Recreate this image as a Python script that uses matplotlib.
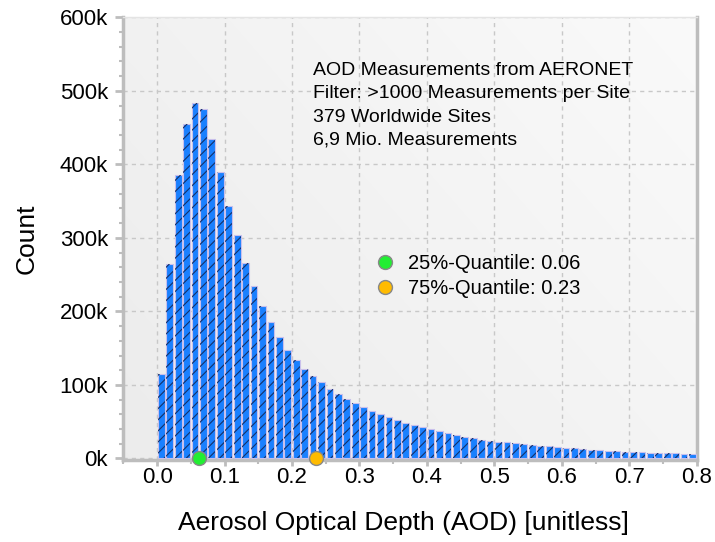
import numpy as np
import matplotlib
matplotlib.use("Agg")
import matplotlib.pyplot as plt
from matplotlib.ticker import MultipleLocator, FuncFormatter
from matplotlib.lines import Line2D

plt.rcParams['font.family'] = ['Liberation Sans', 'DejaVu Sans']

# ---- data ----
bin_width = 0.0125
bin_counts = [
    115000, 264000, 386000, 455000, 484000, 475000, 434000, 390000,
    343000, 304000, 266000, 235000, 207000, 186000, 165000, 148000,
    134000, 122000, 112000, 103600, 94500, 87700, 80500, 75900,
    70500, 65000, 60900, 56800, 52400, 48300, 45600, 42800,
    39700, 37400, 34700, 32400, 29600, 27500, 25800, 24200,
    22800, 22400, 21100, 19700, 18400, 17200, 16800, 15600,
    14400, 14000, 12900, 11800, 11200, 10400, 10100, 9300,
    8900, 8700, 7700, 7600, 7400, 7200, 6300, 6100,
]
quantile_positions = [0.062, 0.236]
quantile_labels = ["25%-Quantile: 0.06", "75%-Quantile: 0.23"]
quantile_colors = ["#22ee33", "#ffbb00"]
info_lines = [
    "AOD Measurements from AERONET",
    "Filter: >1000 Measurements per Site",
    "379 Worldwide Sites",
    "6,9 Mio. Measurements",
]
x_label = "Aerosol Optical Depth (AOD) [unitless]"
y_label = "Count"

# ---- figure ----
fig = plt.figure(figsize=(7.15, 5.42), dpi=100)
ax = fig.add_axes([0.1725, 0.1507, 0.8019, 0.8174])

ax.set_xlim(-0.05, 0.8)
ax.set_ylim(-2500, 600000)

# gradient background
grad = np.linspace(0, 1, 256)
gx, gy = np.meshgrid(grad, grad)
g = 0.925 + 0.055 * (0.6 * gx + 0.4 * gy)
img = np.dstack([g, g, g])
ax.imshow(img, extent=[0, 1, 0, 1], transform=ax.transAxes, origin='lower',
          aspect='auto', zorder=0, interpolation='bilinear')

centers = np.arange(len(bin_counts)) * bin_width + bin_width / 2
ax.bar(centers, bin_counts, width=bin_width * 0.8, color='#1a80ff',
       edgecolor='#c9c0ec', linewidth=0.8, zorder=3)
plt.rcParams['hatch.linewidth'] = 0.8
ax.bar(centers, bin_counts, width=bin_width * 0.8, color='none',
       edgecolor='#12306a', linewidth=0, hatch='///', zorder=4)

for xq, c in zip(quantile_positions, quantile_colors):
    ax.plot([xq], [0], marker='o', markersize=10, color=c,
            markeredgecolor='#888888', markeredgewidth=1.0,
            linestyle='none', clip_on=False, zorder=6)

handles = [Line2D([], [], marker='o', linestyle='none', markersize=10,
                  color=c, markeredgecolor='#888888', markeredgewidth=1.0)
           for c in quantile_colors]
ax.legend(handles, quantile_labels, loc='upper left',
          bbox_to_anchor=(0.416, 0.483), frameon=False, fontsize=14.5,
          handlelength=1.5, handletextpad=0.4, labelspacing=0.28,
          borderaxespad=0)

ax.text(0.331, 0.899, "\n".join(info_lines), transform=ax.transAxes,
        ha='left', va='top', fontsize=14, linespacing=1.48, zorder=7)

# grid
ax.grid(True, which='major', color='#c8c8c8', linestyle=(0, (3, 3)),
        linewidth=1.0, zorder=1)
ax.set_axisbelow(True)

# ticks
ax.xaxis.set_major_locator(MultipleLocator(0.1))
ax.xaxis.set_minor_locator(MultipleLocator(0.05))
ax.yaxis.set_major_locator(MultipleLocator(100000))
ax.yaxis.set_minor_locator(MultipleLocator(20000))
ax.xaxis.set_major_formatter(FuncFormatter(lambda v, p: f"{v:.1f}"))
ax.yaxis.set_major_formatter(FuncFormatter(lambda v, p: f"{int(round(v / 1000))}k"))
ax.tick_params(axis='y', which='major', direction='out', length=6, width=2,
               color='#bdbdbd', labelsize=16, pad=5)
ax.tick_params(axis='x', which='major', direction='out', length=4, width=2,
               color='#bdbdbd', labelsize=16, pad=1)
ax.tick_params(which='minor', direction='out', length=3, width=1.5,
               color='#bdbdbd')

for side in ['left', 'bottom', 'right']:
    ax.spines[side].set_color('#bdbdbd')
    ax.spines[side].set_linewidth(2.5)
ax.spines['top'].set_color('#e4e4e4')
ax.spines['top'].set_linewidth(1.0)

ax.set_xlabel(x_label, fontsize=19)
ax.set_ylabel(y_label, fontsize=19)
ax.xaxis.set_label_coords(0.4887, -0.115)
ax.yaxis.set_label_coords(-0.147, 0.5)

fig.savefig("out.png", dpi=100)
